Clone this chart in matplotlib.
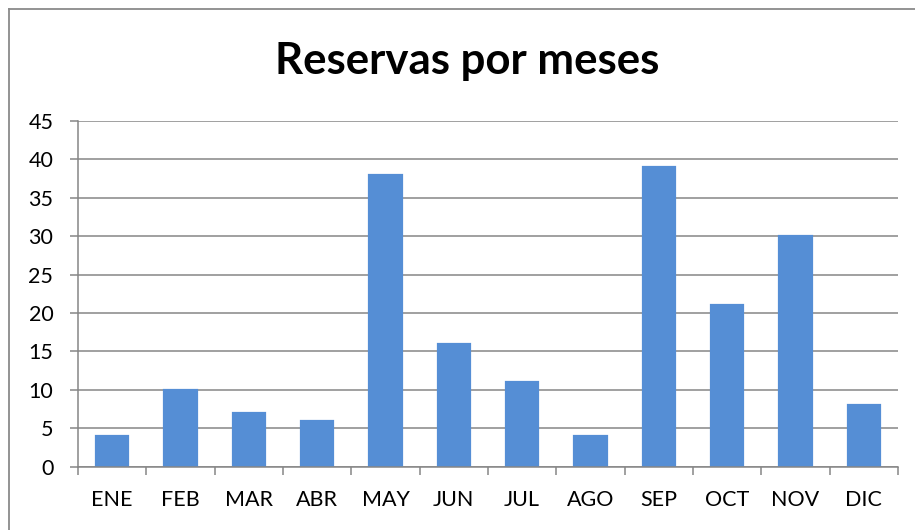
import matplotlib
matplotlib.use("Agg")
import matplotlib.pyplot as plt
from matplotlib.lines import Line2D

months = ["ENE", "FEB", "MAR", "ABR", "MAY", "JUN", "JUL", "AGO", "SEP", "OCT", "NOV", "DIC"]
reservas = [4, 10, 7, 6, 38, 16, 11, 4, 39, 21, 30, 8]
yticks = [0, 5, 10, 15, 20, 25, 30, 35, 40, 45]
title = "Reservas por meses"

W, H = 915, 530
plt.rcParams['font.family'] = ['Lato', 'DejaVu Sans']
fig = plt.figure(figsize=(W / 100, H / 100), dpi=100)
fig.patch.set_facecolor("white")

grid_c = "#868686"
bar_c = "#558ED5"

ax = fig.add_axes([78 / W, (H - 466.7) / H, (898 - 78) / W, (466.7 - 121) / H])
x = list(range(len(months)))
ax.bar(x, reservas, width=0.47, color=bar_c, edgecolor=bar_c, linewidth=1.6, zorder=3)
ax.set_xlim(-0.5, len(months) - 0.5)
ax.set_ylim(0, 45)
ax.set_yticks(yticks)
ax.set_yticklabels([str(v) for v in yticks])
ax.set_xticks(x)
ax.set_xticklabels(months)
ax.set_xticks([i - 0.5 for i in range(len(months) + 1)], minor=True)
ax.yaxis.grid(True, color=grid_c, linewidth=1.1, zorder=1)
ax.set_axisbelow(True)
for s in ["top", "right"]:
    ax.spines[s].set_visible(False)
for s in ["left", "bottom"]:
    ax.spines[s].set_color(grid_c)
    ax.spines[s].set_linewidth(1.1)
    ax.spines[s].set_zorder(4)
ax.tick_params(axis="y", length=5.8, width=1.1, color=grid_c, pad=12, labelsize=15.5, labelcolor="black")
ax.tick_params(axis="x", which="major", length=0, pad=17, labelsize=15.5, labelcolor="black")
ax.tick_params(axis="x", which="minor", length=5.8, width=1.1, color=grid_c)

fig.text(467.5 / W, (H - 61) / H, title, ha="center", va="center", fontsize=31.5, fontweight="bold", color="black")

# chart area border (left and top visible)
fig.add_artist(Line2D([9 / W, 9 / W], [0, (H - 9) / H], color="#8a8a8a", linewidth=1.3, transform=fig.transFigure))
fig.add_artist(Line2D([9 / W, 1], [(H - 9) / H, (H - 9) / H], color="#8a8a8a", linewidth=1.3, transform=fig.transFigure))

fig.savefig("out.png", dpi=100, facecolor="white")
